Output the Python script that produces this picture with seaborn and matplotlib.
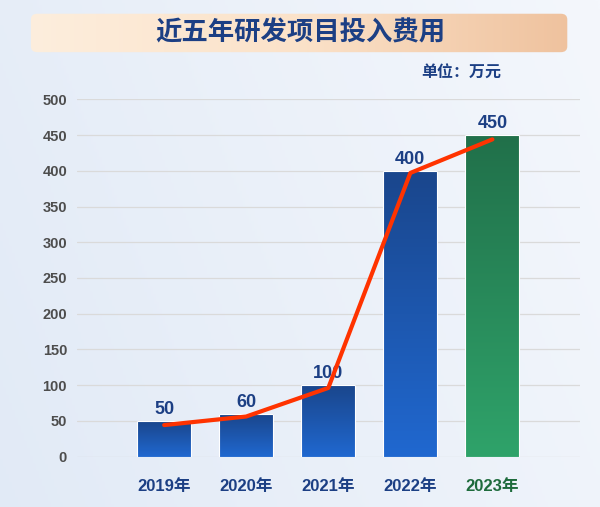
import numpy as np
import pandas as pd
import matplotlib
matplotlib.use("Agg")
import matplotlib.pyplot as plt
from matplotlib.colors import LinearSegmentedColormap
from matplotlib.patches import FancyBboxPatch
import seaborn as sns

# data
years = ["2019年", "2020年", "2021年", "2022年", "2023年"]
costs = [50, 60, 100, 400, 450]
trend = [44, 56, 96, 397, 444]
y_ticks = [0, 50, 100, 150, 200, 250, 300, 350, 400, 450, 500]

sns.set_theme(style="white")
plt.rcParams["font.family"] = ["Liberation Sans", "Noto Sans CJK SC", "DejaVu Sans"]
plt.rcParams["font.weight"] = "bold"

navy = "#1c3f84"
fig = plt.figure(figsize=(6, 5.07), dpi=100)

# background gradient
bg = fig.add_axes([0, 0, 1, 1], zorder=-10)
gx = np.linspace(0, 1, 200)
gy = np.linspace(0, 1, 200)
X, Y = np.meshgrid(gx, gy)
bg_cmap = LinearSegmentedColormap.from_list("bg", ["#dde7f5", "#f4f7fc"])
bg.imshow(0.6 * X + 0.4 * (1 - Y) * 0.5 + 0.2, cmap=bg_cmap, aspect="auto",
          extent=[0, 1, 0, 1], vmin=0, vmax=1)
bg.set_axis_off()

# title banner
ban = fig.add_axes([0.047, 0.8955, 0.903, 0.079], zorder=-5)
ban.set_xlim(0, 1)
ban.set_ylim(0, 1)
ban_cmap = LinearSegmentedColormap.from_list("ban", ["#fdeedd", "#fbe2c9", "#efc29e"])
img = ban.imshow(np.linspace(0, 1, 256)[None, :], cmap=ban_cmap, aspect="auto",
                 extent=[0, 1, 0, 1])
box = FancyBboxPatch((0.005, 0.02), 0.99, 0.96,
                     boxstyle="round,pad=0,rounding_size=0.012",
                     mutation_aspect=12, facecolor="none", edgecolor="none",
                     transform=ban.transData)
ban.add_patch(box)
img.set_clip_path(box)
ban.set_axis_off()

fig.text(0.5, 0.935, "近五年研发项目投入费用", ha="center", va="center",
         fontsize=19, fontweight="bold", color=navy)
fig.text(0.835, 0.856, "单位：万元", ha="right", va="center",
         fontsize=11.5, fontweight="bold", color=navy)

# main chart
ax = fig.add_axes([0.128, 0.0996, 0.839, 0.7044])
ax.patch.set_alpha(0)
df = pd.DataFrame({"year": years, "cost": costs})
sns.barplot(data=df, x="year", y="cost", ax=ax, width=0.66,
            color="#1f5fbf", saturation=1, zorder=3)

blue_cmap = LinearSegmentedColormap.from_list("blue", ["#2068d0", "#1a468c"])
green_cmap = LinearSegmentedColormap.from_list("green", ["#2fa36a", "#21704a"])
for i, p in enumerate(ax.patches):
    x0, y0 = p.get_x(), p.get_y()
    w, h = p.get_width(), p.get_height()
    cm = green_cmap if i == len(years) - 1 else blue_cmap
    grad = ax.imshow(np.linspace(0, 1, 256)[:, None], cmap=cm, aspect="auto",
                     origin="lower", extent=[x0, x0 + w, y0, y0 + h], zorder=3)
    grad.set_clip_path(p)
    p.set_facecolor("none")
    p.set_edgecolor("white")
    p.set_linewidth(0.8)
    p.set_zorder(4)
    ax.text(x0 + w / 2, y0 + h + 4, str(costs[i]), ha="center", va="bottom",
            fontsize=13, fontweight="bold", color=navy, zorder=5)

sns.lineplot(x=np.arange(len(years)), y=trend, ax=ax, color="#ff3300",
             linewidth=3, sort=False, zorder=6)

ax.set_xlim(-1.065, 5.07)
ax.set_ylim(0, 500)
ax.set_yticks(y_ticks)
ax.yaxis.grid(True, color="#dadada", linewidth=0.9)
ax.set_axisbelow(True)
for s in ax.spines.values():
    s.set_visible(False)
ax.set_xlabel("")
ax.set_ylabel("")
ax.tick_params(axis="y", length=0, pad=7, labelsize=10.5, labelcolor="#4d4d4d")
ax.tick_params(axis="x", length=0, pad=16, labelsize=12)
for i, lbl in enumerate(ax.get_xticklabels()):
    lbl.set_fontweight("bold")
    lbl.set_color("#1e6b3c" if i == len(years) - 1 else navy)
for lbl in ax.get_yticklabels():
    lbl.set_fontweight("bold")

fig.savefig("out.png", dpi=100)
